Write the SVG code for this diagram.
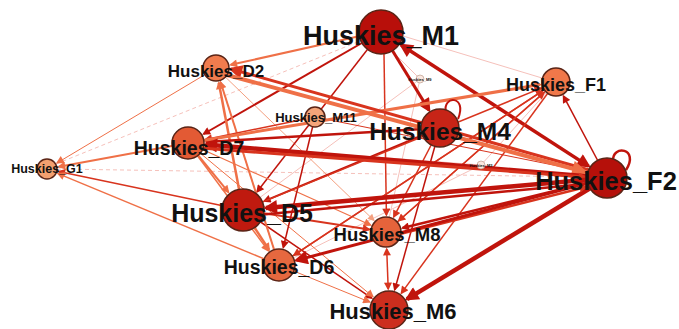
<svg xmlns="http://www.w3.org/2000/svg" width="679" height="329" viewBox="0 0 679 329">
<style>
.e{fill:none;stroke-linecap:butt}
.dr{stroke:#c0140c}
.r{stroke:#d8341e}
.o{stroke:#ef7047}
.l{stroke:#f4a080}
.f{stroke:#f2b0a8;stroke-width:0.8}
.d{stroke-dasharray:4 3}
.n{stroke:#5a2416;stroke-width:1.5}
.t{font-family:"Liberation Sans",Arial,sans-serif;font-weight:bold;fill:#111;text-anchor:middle}
</style>
<defs>
<marker id="sdr" viewBox="0 0 10 10" refX="8" refY="5" markerWidth="10" markerHeight="8" markerUnits="userSpaceOnUse" orient="auto-start-reverse"><path d="M0,0L10,5L0,10z" fill="#c0140c"/></marker>
<marker id="bdr" viewBox="0 0 10 10" refX="8" refY="5" markerWidth="18" markerHeight="14" markerUnits="userSpaceOnUse" orient="auto-start-reverse"><path d="M0,0L10,5L0,10z" fill="#c0140c"/></marker>
<marker id="sr" viewBox="0 0 10 10" refX="8" refY="5" markerWidth="10" markerHeight="8" markerUnits="userSpaceOnUse" orient="auto-start-reverse"><path d="M0,0L10,5L0,10z" fill="#d8341e"/></marker>
<marker id="br" viewBox="0 0 10 10" refX="8" refY="5" markerWidth="18" markerHeight="14" markerUnits="userSpaceOnUse" orient="auto-start-reverse"><path d="M0,0L10,5L0,10z" fill="#d8341e"/></marker>
<marker id="so" viewBox="0 0 10 10" refX="8" refY="5" markerWidth="10" markerHeight="8" markerUnits="userSpaceOnUse" orient="auto-start-reverse"><path d="M0,0L10,5L0,10z" fill="#ef7047"/></marker>
<marker id="bo" viewBox="0 0 10 10" refX="8" refY="5" markerWidth="20" markerHeight="16" markerUnits="userSpaceOnUse" orient="auto-start-reverse"><path d="M0,0L10,5L0,10z" fill="#ef7047"/></marker>
<marker id="sl" viewBox="0 0 10 10" refX="8" refY="5" markerWidth="9" markerHeight="7" markerUnits="userSpaceOnUse" orient="auto-start-reverse"><path d="M0,0L10,5L0,10z" fill="#f4a080"/></marker>
</defs>
<g id="edges">
<line class="e f d" x1="57" y1="169" x2="587" y2="177"/>
<line class="e f d" x1="56" y1="164" x2="360" y2="41"/>
<line class="e f" x1="403" y1="36" x2="542" y2="78"/>
<line class="e f" x1="381" y1="40" x2="420" y2="79"/>
<line class="e f" x1="420" y1="79" x2="386" y2="232"/>
<line class="e f" x1="481" y1="165" x2="188" y2="143"/>
<line class="e f" x1="556" y1="82" x2="481" y2="165"/>
<line class="e f" x1="420" y1="79" x2="243" y2="210"/>
<line class="e f" x1="481" y1="165" x2="279" y2="265"/>
<line class="e l" stroke-width="1" x1="216" y1="68" x2="373.8" y2="220.2" marker-end="url(#sl)"/>
<line class="e l" stroke-width="0.9" x1="216" y1="68" x2="273.5" y2="247.9"/>
<line class="e o" stroke-width="1" x1="216" y1="68" x2="57.3" y2="162.8" marker-end="url(#so)"/>
<line class="e o" stroke-width="2" x1="188" y1="143" x2="58.8" y2="166.8" marker-end="url(#so)"/>
<line class="e r" stroke-width="1.5" x1="243" y1="210" x2="58.7" y2="171.5" marker-end="url(#sr)"/>
<line class="e o" stroke-width="1.5" x1="279" y1="265" x2="58.1" y2="173.6" marker-end="url(#so)"/>
<line class="e o" stroke-width="2" x1="360" y1="36" x2="230.7" y2="64.8" marker-end="url(#so)"/>
<line class="e dr" stroke-width="2" x1="381" y1="32" x2="203.6" y2="134" marker-end="url(#sdr)"/>
<line class="e dr" stroke-width="3" x1="381" y1="32" x2="429" y2="110.1" marker-end="url(#bdr)"/>
<line class="e dr" stroke-width="3.5" x1="401.2" y1="45" x2="588.5" y2="166.1" marker-start="url(#bdr)" marker-end="url(#bdr)"/>
<line class="e dr" stroke-width="1.5" x1="381" y1="32" x2="257.1" y2="191.8" marker-end="url(#sdr)"/>
<line class="e r" stroke-width="1.5" x1="384" y1="54" x2="386.4" y2="215" marker-end="url(#sr)"/>
<line class="e dr" stroke-width="1.5" x1="440" y1="128" x2="394.7" y2="289.8" marker-end="url(#sdr)"/>
<line class="e r" stroke-width="1.5" x1="440" y1="128" x2="393.8" y2="216.9" marker-end="url(#sr)"/>
<line class="e r" stroke-width="1.5" x1="556" y1="82" x2="401.4" y2="293.1" marker-end="url(#sr)"/>
<line class="e r" stroke-width="1.2" x1="556" y1="82" x2="398.7" y2="220.8" marker-end="url(#sr)"/>
<line class="e r" stroke-width="1.5" x1="556" y1="82" x2="294" y2="255.1" marker-end="url(#sr)"/>
<line class="e dr" stroke-width="1.5" x1="243" y1="210" x2="371.7" y2="298.1" marker-end="url(#sdr)"/>
<line class="e o" stroke-width="1" x1="279" y1="265" x2="369.6" y2="302" marker-end="url(#so)"/>
<line class="e o" stroke-width="1" x1="188" y1="143" x2="372.8" y2="296.6" marker-end="url(#so)"/>
<line class="e o" stroke-width="1.2" x1="188" y1="143" x2="370.5" y2="225" marker-end="url(#so)"/>
<line class="e r" stroke-width="2" x1="243" y1="210" x2="369.2" y2="229.4" marker-end="url(#sr)"/>
<line class="e r" stroke-width="1.5" x1="386.7" y1="249" x2="388.2" y2="289" marker-start="url(#sr)" marker-end="url(#sr)"/>
<line class="e o" stroke-width="2.5" x1="243" y1="210" x2="218.8" y2="82.7" marker-end="url(#so)"/>
<line class="e o" stroke-width="2" x1="279" y1="265" x2="220.6" y2="82.3" marker-end="url(#so)"/>
<line class="e o" stroke-width="2.5" x1="243" y1="210" x2="269.1" y2="249.9" marker-end="url(#so)"/>
<line class="e o" stroke-width="2" x1="188" y1="143" x2="228.4" y2="192.2" marker-end="url(#so)"/>
<line class="e o" stroke-width="1.5" x1="188" y1="143" x2="268.2" y2="250.6" marker-end="url(#so)"/>
<line class="e r" stroke-width="1.5" x1="315" y1="117" x2="205.6" y2="139.4" marker-end="url(#sr)"/>
<line class="e dr" stroke-width="1.5" x1="315" y1="117" x2="283.3" y2="247.5" marker-end="url(#sdr)"/>
<line class="e r" stroke-width="1" x1="315" y1="117" x2="588" y2="172"/>
<line class="e dr" stroke-width="2.5" x1="440" y1="128" x2="206" y2="141.9" marker-end="url(#sdr)"/>
<line class="e dr" stroke-width="2" x1="440" y1="128" x2="264.2" y2="201.2" marker-end="url(#sdr)"/>
<line class="e o" stroke-width="3" x1="188" y1="143" x2="540.2" y2="84.6" marker-end="url(#so)"/>
<line class="e r" stroke-width="1.5" x1="243" y1="210" x2="541.2" y2="88.1" marker-end="url(#sr)"/>
<line class="e r" stroke-width="1.5" x1="279" y1="265" x2="542.6" y2="90.8" marker-end="url(#sr)"/>
<line class="e r" stroke-width="1.5" x1="386" y1="232" x2="544" y2="92.6" marker-end="url(#sr)"/>
<line class="e dr" stroke-width="1.5" x1="607" y1="178" x2="563.5" y2="96.1" marker-end="url(#sdr)"/>
<line class="e r" stroke-width="3" x1="607" y1="175" x2="231" y2="69" marker-end="url(#br)"/>
<line class="e o" stroke-width="4" x1="216" y1="72" x2="585" y2="172" marker-end="url(#bo)"/>
<line class="e dr" stroke-width="4.5" x1="607" y1="178" x2="205.9" y2="144.5" marker-end="url(#bdr)"/>
<line class="e r" stroke-width="3" x1="188" y1="147" x2="585" y2="177" marker-end="url(#sr)"/>
<line class="e dr" stroke-width="4.5" x1="607" y1="178" x2="265.9" y2="208" marker-end="url(#bdr)"/>
<line class="e dr" stroke-width="2.5" x1="258" y1="215" x2="585" y2="184" marker-end="url(#sdr)"/>
<line class="e dr" stroke-width="4.5" x1="607" y1="178" x2="407" y2="299.1" marker-end="url(#bdr)"/>
<line class="e dr" stroke-width="2.5" x1="607" y1="178" x2="402.5" y2="228" marker-end="url(#sdr)"/>
<line class="e r" stroke-width="2.5" x1="388" y1="237" x2="586" y2="187" marker-end="url(#sr)"/>
<line class="e dr" stroke-width="3" x1="607" y1="178" x2="296.4" y2="260.4" marker-end="url(#bdr)"/>
<path class="e dr" stroke-width="2" d="M446,112 C442,95 468,95 458,119"/>
<path class="e dr" stroke-width="2.5" d="M613,161 C612,144 640,148 626,170"/>
</g>
<g id="node-G1"><circle class="n" cx="47" cy="169" r="10" fill="#f3a070"/><text class="t" x="47" y="173" font-size="12.5">Huskies_G1</text></g>
<g id="node-D2"><circle class="n" cx="216" cy="68" r="13" fill="#f07c4e"/><text class="t" x="216" y="77" font-size="17">Huskies_D2</text></g>
<g id="node-M11"><circle class="n" cx="315" cy="117" r="10" fill="#f5a57a"/><text class="t" x="316" y="122" font-size="13">Huskies_M11</text></g>
<g id="node-D7"><circle class="n" cx="188" cy="143" r="16" fill="#e35a34"/><text class="t" x="189" y="155" font-size="19.5">Huskies_D7</text></g>
<g id="node-tA"><circle cx="420" cy="79" r="4" fill="#fbe8e0" stroke="#b09080" stroke-width="0.6"/><text class="t" x="420" y="81" font-size="4">Huskies_M9</text></g>
<g id="node-tB"><circle cx="481" cy="165" r="4" fill="#fbe8e0" stroke="#b09080" stroke-width="0.6"/><text class="t" x="481" y="167" font-size="4">Huskies_M3</text></g>
<g id="node-M1"><circle class="n" cx="381" cy="32" r="22" fill="#b80f0a"/><text class="t" x="381" y="45" font-size="27">Huskies_M1</text></g>
<g id="node-M4"><circle class="n" cx="440" cy="128" r="19" fill="#c72417"/><text class="t" x="440" y="140" font-size="24.5">Huskies_M4</text></g>
<g id="node-F1"><circle class="n" cx="556" cy="82" r="14" fill="#f0784a"/><text class="t" x="556" y="91" font-size="18">Huskies_F1</text></g>
<g id="node-F2"><circle class="n" cx="607" cy="178" r="20" fill="#b5100a"/><text class="t" x="606" y="190" font-size="25.5">Huskies_F2</text></g>
<g id="node-D5"><circle class="n" cx="243" cy="210" r="21" fill="#bf1a0f"/><text class="t" x="242" y="222" font-size="25">Huskies_D5</text></g>
<g id="node-M8"><circle class="n" cx="386" cy="232" r="15" fill="#e5633b"/><text class="t" x="387" y="241" font-size="18.5">Huskies_M8</text></g>
<g id="node-D6"><circle class="n" cx="279" cy="265" r="16" fill="#e6683f"/><text class="t" x="279" y="274" font-size="19.5">Huskies_D6</text></g>
<g id="node-M6"><circle class="n" cx="389" cy="310" r="19" fill="#cc2e1e"/><text class="t" x="393" y="319" font-size="22">Huskies_M6</text></g>
</svg>
